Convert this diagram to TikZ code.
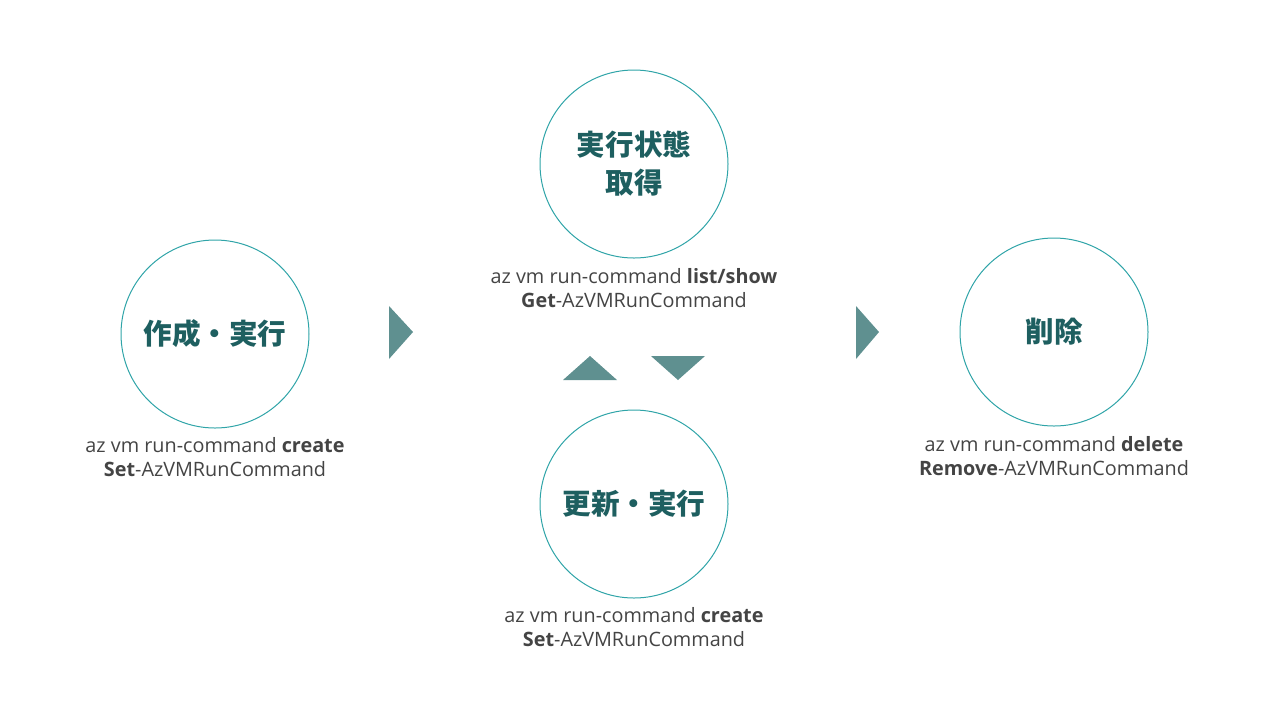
\documentclass[tikz,border=0pt]{standalone}
\usepackage{fontspec}
\setmainfont{Open Sans}
\newfontfamily\jpfont{Noto Sans CJK JP}
\usetikzlibrary{positioning}

\definecolor{ringcol}{HTML}{2FA4A8}
\definecolor{headcol}{HTML}{1E5F60}
\definecolor{tricol}{HTML}{5F9090}
\definecolor{cmdcol}{HTML}{444444}

\begin{document}
\begin{tikzpicture}[
  x=0.5pt, y=-0.5pt,
  phase/.style={circle, draw=ringcol, line width=0.5pt, minimum size=94pt, inner sep=0pt,
    font=\jpfont\bfseries\fontsize{14.3}{19}\selectfont, text=headcol, align=center},
  cmd/.style={font=\fontsize{9.9}{12}\selectfont, text=cmdcol, align=center, inner sep=0pt},
  tri/.style={fill=tricol}
]
\useasboundingbox (0,0) rectangle (1280,720);

% phases
\node[phase] (create) at (215,334) {作成・実行};
\node[phase] (status) at (634,164) {実行状態\\取得};
\node[phase] (update) at (634,504) {更新・実行};
\node[phase] (remove) at (1054,332) {削除};

% commands
\node[cmd, below=4.5pt of create] (createcmd) {az vm run-command \textbf{create}\\\textbf{Set}-AzVMRunCommand};
\node[cmd, below=5pt of status] (statuscmd) {az vm run-command \textbf{list/show}\\\textbf{Get}-AzVMRunCommand};
\node[cmd, below=4.5pt of update] (updatecmd) {az vm run-command \textbf{create}\\\textbf{Set}-AzVMRunCommand};
\node[cmd, below=5pt of remove] (removecmd) {az vm run-command \textbf{delete}\\\textbf{Remove}-AzVMRunCommand};

% arrows
\fill[tri] (389,306) -- (413,332) -- (389,359) -- cycle;
\fill[tri] (856,306) -- (879,332) -- (856,359) -- cycle;
\fill[tri] (563,380) -- (590,356) -- (617,380) -- cycle;
\fill[tri] (651,356) -- (705,356) -- (678,380) -- cycle;
\end{tikzpicture}
\end{document}
